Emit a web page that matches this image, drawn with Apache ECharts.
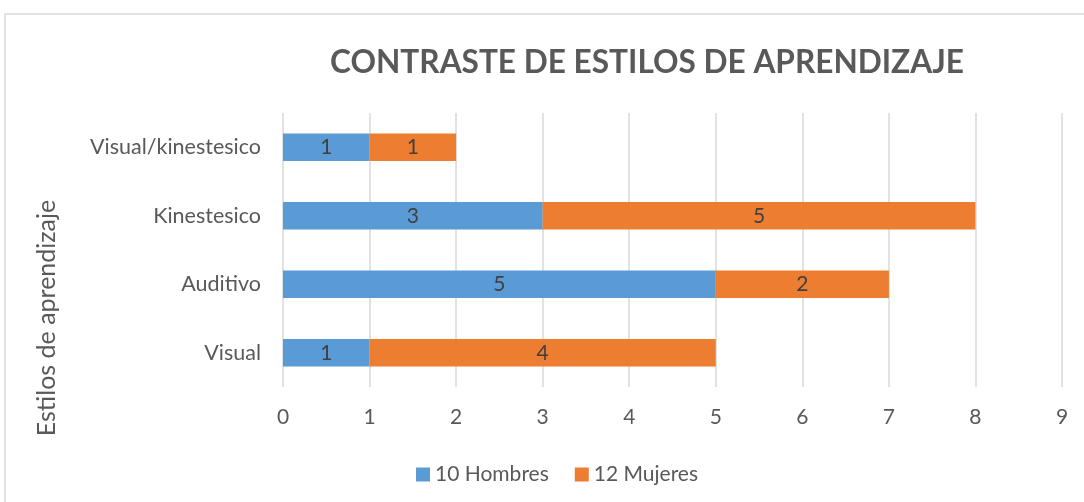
<!DOCTYPE html>
<html>
<head>
<meta charset="utf-8">
<script src="https://cdn.jsdelivr.net/npm/echarts@6/dist/echarts.min.js"></script>
<style>
html,body{margin:0;padding:0;background:#fff;}
#main{width:1084px;height:502px;}
</style>
</head>
<body>
<div id="main"></div>
<script>
var categorias = ['Visual', 'Auditivo', 'Kinestesico', 'Visual/kinestesico'];
var hombres = [1, 5, 3, 1];
var mujeres = [4, 2, 5, 1];
var ticks = [0, 1, 2, 3, 4, 5, 6, 7, 8, 9];

var fuente = 'Lato';
var myChart = echarts.init(document.getElementById('main'));
var option = {
	backgroundColor: '#fff',
	title: {
		text: 'CONTRASTE DE ESTILOS DE APRENDIZAJE',
		left: 642,
		top: 42,
		textAlign: 'center',
		textStyle: { fontFamily: fuente, fontSize: 31.6, fontWeight: 'bold', color: '#595959' }
	},
	legend: {
		data: ['10 Hombres', '12 Mujeres'],
		left: 411,
		top: 459,
		itemWidth: 14,
		itemHeight: 14,
		itemGap: 26,
		icon: 'rect',
		textStyle: { fontFamily: fuente, fontSize: 21, color: '#595959' }
	},
	grid: { left: 283, right: 22, top: 113, bottom: 115, containLabel: false },
	xAxis: {
		type: 'value',
		min: 0,
		max: ticks[ticks.length - 1],
		interval: 1,
		axisLine: { show: false },
		axisTick: { show: false },
		splitLine: { lineStyle: { color: '#d9d9d9', width: 1.5 } },
		axisLabel: { fontFamily: fuente, fontSize: 21, color: '#595959', margin: 20 }
	},
	yAxis: {
		type: 'category',
		data: categorias,
		axisLine: { show: false },
		axisTick: { show: false },
		axisLabel: { fontFamily: fuente, fontSize: 21.5, color: '#595959', margin: 22 }
	},
	graphic: [
		{
			type: 'rect',
			shape: { x: 5, y: 14, width: 1200, height: 600 },
			style: { fill: 'none', stroke: '#d9d9d9', lineWidth: 1.5 },
			silent: true
		},
		{
			type: 'text',
			x: 47,
			y: 318,
			rotation: Math.PI / 2,
			style: {
				text: 'Estilos de aprendizaje',
				fontFamily: fuente,
				fontSize: 25,
				fill: '#595959',
				align: 'center',
				verticalAlign: 'middle'
			}
		}
	],
	series: [
		{
			name: '10 Hombres',
			type: 'bar',
			stack: 'total',
			barWidth: '40%',
			data: hombres,
			itemStyle: { color: '#5b9bd5' },
			label: { show: true, position: 'inside', fontFamily: fuente, fontSize: 21, color: '#404040' }
		},
		{
			name: '12 Mujeres',
			type: 'bar',
			stack: 'total',
			barWidth: '40%',
			data: mujeres,
			itemStyle: { color: '#ed7d31' },
			label: { show: true, position: 'inside', fontFamily: fuente, fontSize: 21, color: '#404040' }
		}
	]
};
myChart.setOption(option);
</script>
</body>
</html>
